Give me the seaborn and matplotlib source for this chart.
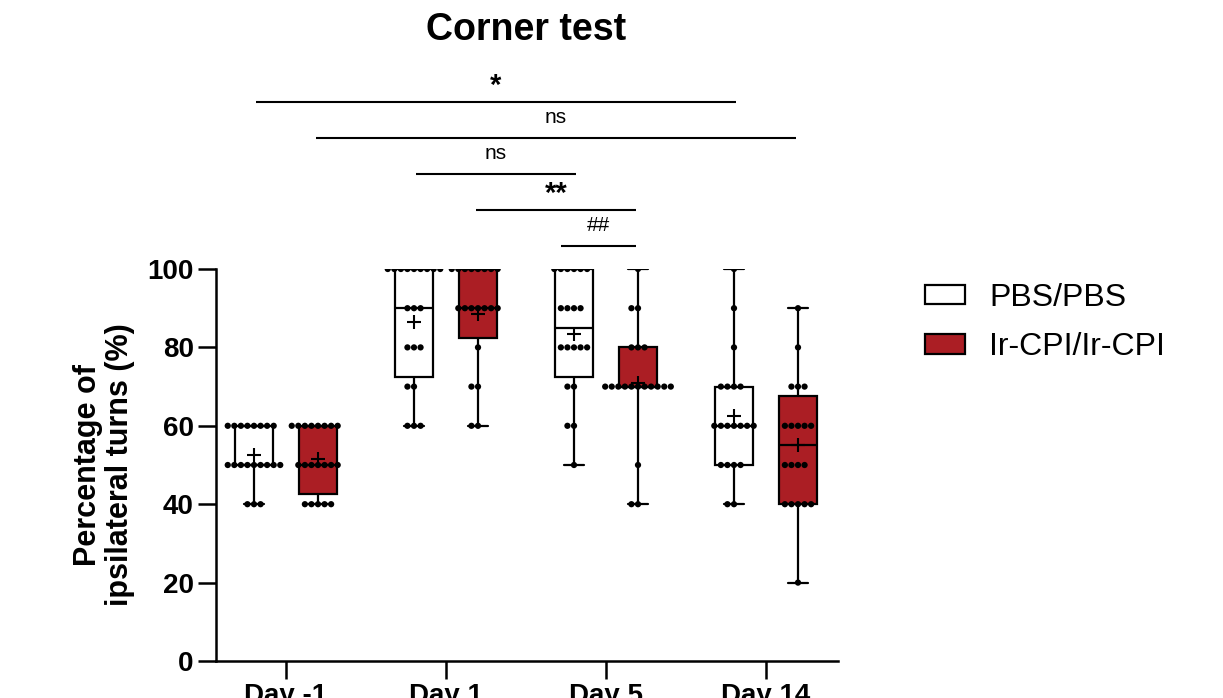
import numpy as np
import pandas as pd
import matplotlib
matplotlib.use("Agg")
import matplotlib.pyplot as plt
import seaborn as sns
from contextlib import contextmanager

# ---------------- data ----------------
days = ["Day -1", "Day 1", "Day 5", "Day 14"]
groups = ["PBS/PBS", "Ir-CPI/Ir-CPI"]
group_colors = ["#FFFFFF", "#AB1E24"]

pbs_day_m1 = [60, 60, 60, 60, 60, 60, 60, 60,
              50, 50, 50, 50, 50, 50, 50, 50, 50,
              40, 40, 40]
ircpi_day_m1 = [60, 60, 60, 60, 60, 60, 60, 60,
                50, 50, 50, 50, 50, 50, 50,
                40, 40, 40, 40, 40]
pbs_day1 = [100, 100, 100, 100, 100, 100, 100, 100, 100,
            90, 90, 90, 80, 80, 80, 70, 70, 60, 60, 60]
ircpi_day1 = [100, 100, 100, 100, 100, 100, 100, 100,
              90, 90, 90, 90, 90, 90, 90, 80, 70, 70, 60, 60]
pbs_day5 = [100, 100, 100, 100, 100, 100, 90, 90, 90, 90,
            80, 80, 80, 80, 80, 70, 70, 60, 60, 50]
ircpi_day5 = [100, 90, 90, 80, 80, 80,
              70, 70, 70, 70, 70, 70, 70, 70, 70, 70, 70,
              50, 40, 40]
pbs_day14 = [100, 90, 80, 70, 70, 70, 70,
             60, 60, 60, 60, 60, 60, 60,
             50, 50, 50, 50, 40, 40]
ircpi_day14 = [90, 80, 70, 70, 70, 60, 60, 60, 60, 60,
               50, 50, 50, 50, 40, 40, 40, 40, 40, 20]

series = {
    ("PBS/PBS", "Day -1"): pbs_day_m1,
    ("Ir-CPI/Ir-CPI", "Day -1"): ircpi_day_m1,
    ("PBS/PBS", "Day 1"): pbs_day1,
    ("Ir-CPI/Ir-CPI", "Day 1"): ircpi_day1,
    ("PBS/PBS", "Day 5"): pbs_day5,
    ("Ir-CPI/Ir-CPI", "Day 5"): ircpi_day5,
    ("PBS/PBS", "Day 14"): pbs_day14,
    ("Ir-CPI/Ir-CPI", "Day 14"): ircpi_day14,
}

# significance brackets (annotation layout)
bracket_x1 = [-0.1875, 0.1875, 0.8125, 1.1875, 1.72]
bracket_x2 = [2.8125, 3.1875, 1.8125, 2.1875, 2.1875]
bracket_y = [142.6, 133.4, 124.2, 115.0, 105.9]
bracket_labels = ["*", "ns", "ns", "**", "##"]

rows = []
for (g, d), vals in series.items():
    for v in vals:
        rows.append({"group": g, "day": d, "value": v})
df = pd.DataFrame(rows)


@contextmanager
def weibull_quartiles():
    """Quartiles computed with the (n+1)p rule, as in the original software."""
    orig = np.percentile

    def pct(a, q, *args, **kw):
        kw.setdefault("method", "weibull")
        return orig(a, q, *args, **kw)

    np.percentile = pct
    try:
        yield
    finally:
        np.percentile = orig


# ---------------- styling ----------------
sns.set_style("ticks")
plt.rcParams["font.family"] = ["Liberation Sans", "DejaVu Sans"]
plt.rcParams["axes.linewidth"] = 1.8
plt.rcParams["text.color"] = "black"
plt.rcParams["axes.labelcolor"] = "black"
plt.rcParams["xtick.color"] = "black"
plt.rcParams["ytick.color"] = "black"

fig = plt.figure(figsize=(12.23, 6.98), dpi=100)
ax = fig.add_axes([216 / 1223, 1 - 661 / 698, (838 - 216) / 1223, (661 - 269) / 698])

with weibull_quartiles():
    sns.boxplot(
        data=df, x="day", y="value", hue="group",
        order=days, hue_order=groups,
        palette=dict(zip(groups, group_colors)), saturation=1,
        width=0.8, gap=0.4, whis=(0, 100), fliersize=0,
        linecolor="black", linewidth=1.6,
        showmeans=True,
        meanprops=dict(marker="+", markeredgecolor="black",
                       markerfacecolor="black", markersize=10,
                       markeredgewidth=1.5),
        ax=ax,
    )

sns.swarmplot(
    data=df, x="day", y="value", hue="group",
    order=days, hue_order=groups, dodge=True,
    palette=dict(zip(groups, ["black", "black"])),
    size=4.5, legend=False, ax=ax, zorder=3,
)

ax.set_xlim(-0.4375, 3.45)
ax.set_ylim(0, 100)
ax.set_yticks([0, 20, 40, 60, 80, 100])
sns.despine(ax=ax)
for s in ("left", "bottom"):
    ax.spines[s].set_linewidth(1.8)
    ax.spines[s].set_color("black")
ax.tick_params(axis="both", length=13, width=1.8, labelsize=20, pad=3,
               color="black", labelcolor="black")
plt.setp(ax.get_xticklabels(), fontweight="bold")
plt.setp(ax.get_yticklabels(), fontweight="bold")
ax.set_xlabel("")
ax.set_ylabel("Percentage of\nipsilateral turns (%)", fontsize=22,
              fontweight="bold", linespacing=1.1, color="black")
ax.yaxis.set_label_coords(-0.13, 0.5)

# brackets
for x1, x2, y, lab in zip(bracket_x1, bracket_x2, bracket_y, bracket_labels):
    ax.plot([x1, x2], [y, y], color="black", lw=1.5, clip_on=False,
            solid_capstyle="butt")
    if "*" in lab:
        ax.text((x1 + x2) / 2, y + 2.0, lab, ha="center", va="baseline",
                fontsize=21, fontweight="bold", color="black", clip_on=False)
    else:
        ax.text((x1 + x2) / 2, y + 3.9, lab, ha="center", va="baseline",
                fontsize=15, color="black", clip_on=False)

sns.move_legend(
    ax, "upper left", bbox_to_anchor=(1.14, 0.965), frameon=False,
    title=None, fontsize=23, handlelength=1.25, handleheight=0.58,
    labelspacing=0.6, handletextpad=0.75, borderaxespad=0, borderpad=0,
)
for t in ax.get_legend().get_texts():
    t.set_color("black")

fig.text(526 / 1223, 1 - 30 / 698, "Corner test", fontsize=27,
         fontweight="bold", ha="center", va="center", color="black")

fig.savefig("out.png", dpi=100)
